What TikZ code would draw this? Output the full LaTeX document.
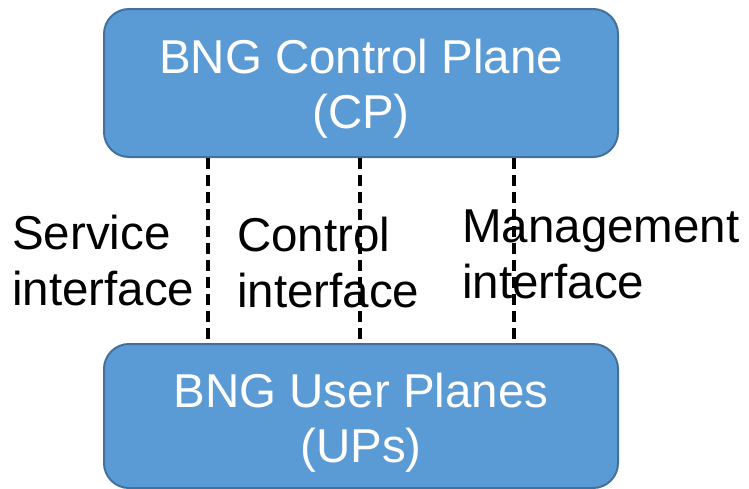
\documentclass[tikz,border=0pt]{standalone}
\usepackage{fontspec}
\setmainfont{Liberation Sans}
\definecolor{boxfill}{HTML}{5B9BD5}
\definecolor{boxline}{HTML}{41719C}
\begin{document}
\begin{tikzpicture}[x=1pt,y=-1pt,
  plane/.style={draw=boxline, line width=2pt, fill=boxfill,
    rounded corners=25pt, inner sep=0pt, anchor=north west,
    minimum width=514pt},
  planetext/.style={text=white, align=center, anchor=base,
    font=\fontsize{47.5}{55}\selectfont, inner sep=0pt},
  ifacetext/.style={text=black, align=left, anchor=base west,
    font=\fontsize{47.5}{56}\selectfont, inner sep=0pt},
  iface/.style={draw=black, line width=3.4pt, dash pattern=on 11pt off 6pt}
]
\useasboundingbox (0,0) rectangle (749,488);

% the two planes (text anchored at the baseline of its last line)
\node[plane, minimum height=148pt] (cp) at (103,8) {};
\node[plane, minimum height=144pt] (up) at (103,343) {};
\node[planetext] (cpt) at (361,128) {BNG Control Plane\\(CP)};
\node[planetext] (upt) at (361,462) {BNG User Planes\\(UPs)};

% interfaces between them
\coordinate (xs) at (208,0);
\coordinate (xc) at (360,0);
\coordinate (xm) at (514,0);
\draw[iface] (cp.south -| xs) -- (up.north -| xs);
\draw[iface] (cp.south -| xc) -- (up.north -| xc);
\draw[iface] (cp.south -| xm) -- (up.north -| xm);

\node[ifacetext] (st) at (12,305) {Service\\interface};
\node[ifacetext] (ct) at (237,307) {Control\\interface};
\node[ifacetext] (mt) at (462,298) {Management\\interface};
\end{tikzpicture}
\end{document}
